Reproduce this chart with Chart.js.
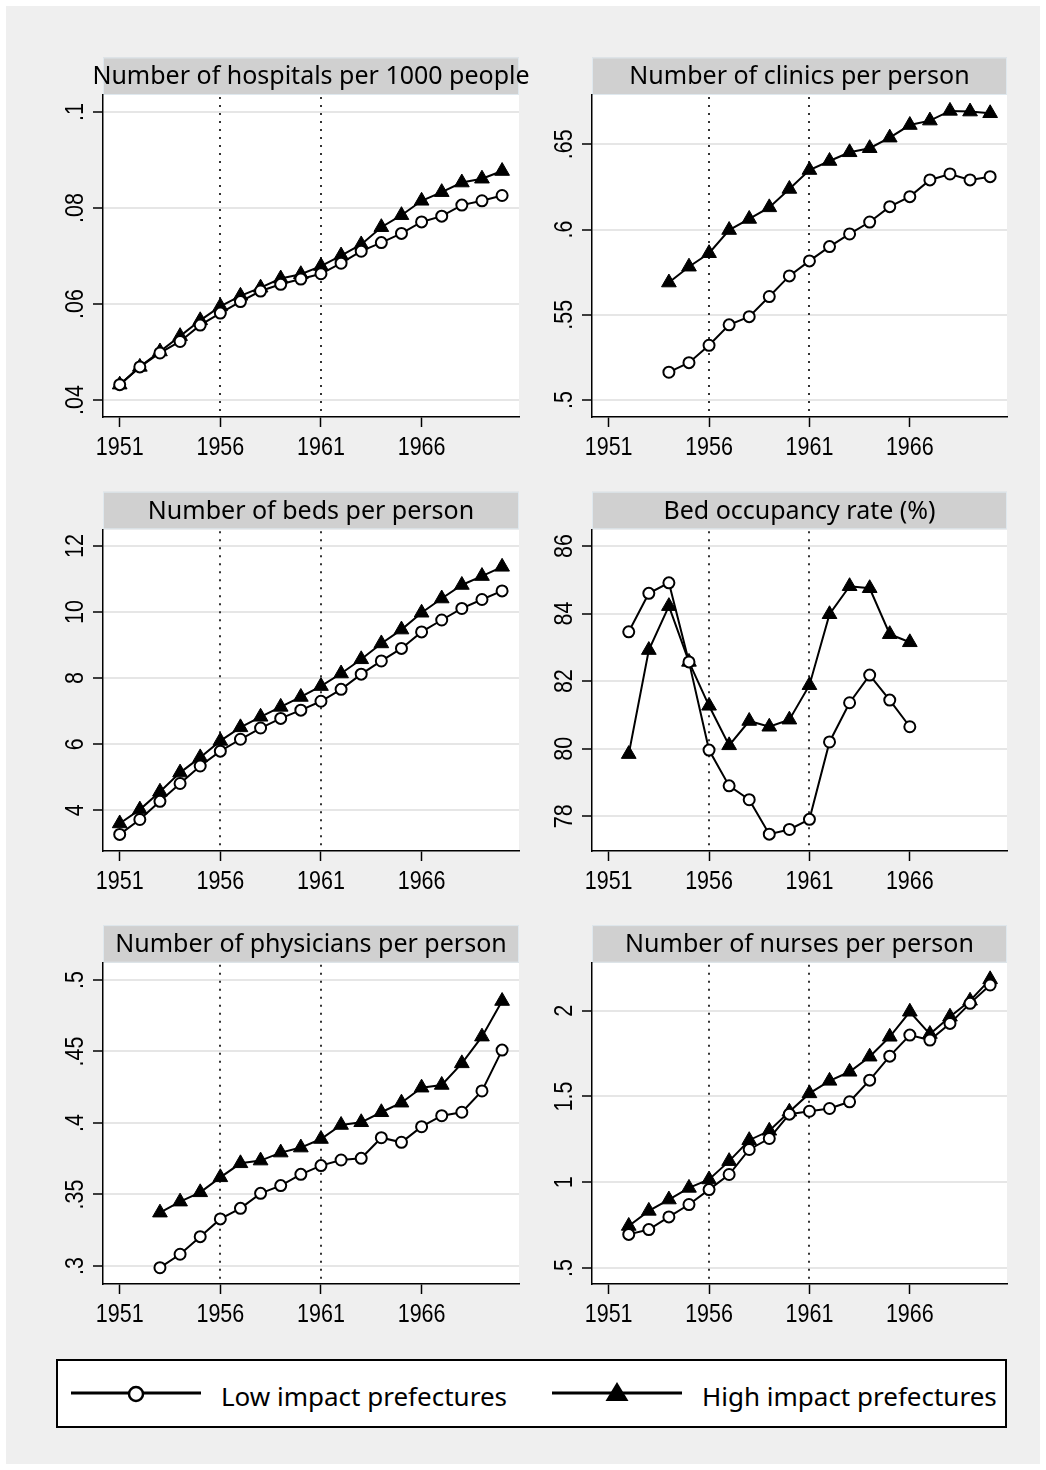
<!DOCTYPE html>
<html>
<head>
<meta charset="utf-8">
<script src="https://cdn.jsdelivr.net/npm/chart.js@4.4.1/dist/chart.umd.min.js"></script>
<style>
  html, body { margin: 0; padding: 0; background: #fff; }
  body { width: 1046px; height: 1470px; position: relative; overflow: hidden; }
  #frame { position: absolute; left: 6px; top: 6px; width: 1034px; height: 1458px; background: #efefef; }
  canvas { position: absolute; }
  #legend { position: absolute; left: 56px; top: 1359px; width: 947px; height: 65px;
            border: 2px solid #000; background: #fff; font-family: "Noto Sans", sans-serif; font-size: 26px; }
  #legend svg, #legend span { position: absolute; }
  #legend span { line-height: 30px; white-space: nowrap; color: #000; }
</style>
</head>
<body>
<div id="frame"></div>
<div id="legend">
  <svg style="left:13px;top:17px" width="130" height="30">
    <line x1="0" y1="15" x2="130" y2="15" stroke="#000" stroke-width="3"/>
    <circle cx="65" cy="16" r="7" fill="#fff" stroke="#000" stroke-width="2.5"/>
  </svg>
  <span style="left:163px;top:20px">Low impact prefectures</span>
  <svg style="left:494px;top:17px" width="130" height="30">
    <line x1="0" y1="15" x2="130" y2="15" stroke="#000" stroke-width="3"/>
    <polygon points="53.5,23 76.5,23 65,4" fill="#000"/>
  </svg>
  <span style="left:644px;top:20px">High impact prefectures</span>
</div>
<script>
// years on the x axis (same for every panel)
const years = [1951, 1952, 1953, 1954, 1955, 1956, 1957, 1958, 1959, 1960,
               1961, 1962, 1963, 1964, 1965, 1966, 1967, 1968, 1969, 1970];
const xTicks = [1951, 1956, 1961, 1966];
const xTickLabels = ['1951', '1956', '1961', '1966'];
const markYears = [1956, 1961];

// Number of hospitals per 1000 people
const hospitalsLow  = [0.0432, 0.0469, 0.0498, 0.0522, 0.0556, 0.0581, 0.0605, 0.0627, 0.0641, 0.0652,
                       0.0663, 0.0685, 0.0710, 0.0728, 0.0747, 0.0771, 0.0783, 0.0806, 0.0815, 0.0826];
const hospitalsHigh = [0.0432, 0.0469, 0.0501, 0.0533, 0.0566, 0.0595, 0.0617, 0.0634, 0.0653, 0.0662,
                       0.0679, 0.0701, 0.0724, 0.0760, 0.0785, 0.0815, 0.0833, 0.0853, 0.0861, 0.0877];
const hospitalsTicks = [0.04, 0.06, 0.08, 0.1];
const hospitalsTickLabels = ['.04', '.06', '.08', '.1'];

// Number of clinics per person
const clinicsLow  = [null, null, null, 0.5163, 0.5219, 0.5321, 0.5441, 0.5489, 0.5607, 0.5728,
                     0.5816, 0.5900, 0.5974, 0.6044, 0.6134, 0.6193, 0.6291, 0.6326, 0.6291, 0.6310];
const clinicsHigh = [null, null, null, 0.5689, 0.5782, 0.5861, 0.5997, 0.6062, 0.6130, 0.6238,
                     0.6349, 0.6402, 0.6453, 0.6477, 0.6539, 0.6613, 0.6639, 0.6696, 0.6692, 0.6682];
const clinicsTicks = [0.5, 0.55, 0.6, 0.65];
const clinicsTickLabels = ['.5', '.55', '.6', '.65'];

// Number of beds per person
const bedsLow  = [3.27, 3.72, 4.27, 4.81, 5.34, 5.79, 6.15, 6.49, 6.78, 7.03,
                  7.30, 7.66, 8.12, 8.52, 8.90, 9.40, 9.76, 10.11, 10.38, 10.64];
const bedsHigh = [3.60, 4.02, 4.56, 5.14, 5.60, 6.10, 6.51, 6.83, 7.13, 7.43,
                  7.76, 8.14, 8.57, 9.05, 9.47, 9.98, 10.41, 10.82, 11.09, 11.37];
const bedsTicks = [4, 6, 8, 10, 12];
const bedsTickLabels = ['4', '6', '8', '10', '12'];

// Bed occupancy rate (%)
const occupancyLow  = [null, 83.46, 84.60, 84.91, 82.57, 79.96, 78.90, 78.49, 77.47, 77.61,
                       77.91, 80.20, 81.36, 82.18, 81.44, 80.65, null, null, null, null];
const occupancyHigh = [null, 79.84, 82.92, 84.22, 82.57, 81.27, 80.10, 80.82, 80.65, 80.86,
                       81.88, 83.98, 84.81, 84.75, 83.39, 83.15, null, null, null, null];
const occupancyTicks = [78, 80, 82, 84, 86];
const occupancyTickLabels = ['78', '80', '82', '84', '86'];

// Number of physicians per person
const physiciansLow  = [null, null, 0.2988, 0.3082, 0.3205, 0.3329, 0.3403, 0.3508, 0.3562, 0.3641,
                        0.3702, 0.3741, 0.3753, 0.3897, 0.3865, 0.3974, 0.4051, 0.4075, 0.4224, 0.4510];
const physiciansHigh = [null, null, 0.3373, 0.3450, 0.3515, 0.3620, 0.3718, 0.3737, 0.3793, 0.3828,
                        0.3888, 0.3986, 0.4005, 0.4075, 0.4142, 0.4247, 0.4266, 0.4417, 0.4604, 0.4853];
const physiciansTicks = [0.3, 0.35, 0.4, 0.45, 0.5];
const physiciansTickLabels = ['.3', '.35', '.4', '.45', '.5'];

// Number of nurses per person
const nursesLow  = [null, 0.696, 0.724, 0.798, 0.870, 0.957, 1.045, 1.191, 1.255, 1.397,
                    1.414, 1.430, 1.469, 1.595, 1.735, 1.858, 1.829, 1.926, 2.043, 2.150];
const nursesHigh = [null, 0.745, 0.833, 0.899, 0.967, 1.016, 1.123, 1.245, 1.300, 1.411,
                    1.518, 1.591, 1.644, 1.732, 1.848, 1.994, 1.864, 1.965, 2.058, 2.183];
const nursesTicks = [0.5, 1, 1.5, 2];
const nursesTickLabels = ['.5', '1', '1.5', '2'];

// page geometry of the plot regions
const cols = [
  { canvasLeft: 8,   canvasWidth: 532, plotLeft: 103, plotRight: 519 },
  { canvasLeft: 545, canvasWidth: 495, plotLeft: 592, plotRight: 1007 }
];
const rows = [
  { canvasTop: 45,  plotTop: 95,    plotBottom: 417 },
  { canvasTop: 479, plotTop: 529.3, plotBottom: 850.7 },
  { canvasTop: 913, plotTop: 962.7, plotBottom: 1284 }
];
const TITLE_H = 37.6;
const BOTTOM_SPACE = 45;

const panels = [
  { col: 0, row: 0, title: 'Number of hospitals per 1000 people', low: hospitalsLow, high: hospitalsHigh,
    min: 0.03646, max: 0.10354, ticks: hospitalsTicks, labels: hospitalsTickLabels },
  { col: 1, row: 0, title: 'Number of clinics per person', low: clinicsLow, high: clinicsHigh,
    min: 0.49003, max: 0.67892, ticks: clinicsTicks, labels: clinicsTickLabels },
  { col: 0, row: 1, title: 'Number of beds per person', low: bedsLow, high: bedsHigh,
    min: 2.767, max: 12.506, ticks: bedsTicks, labels: bedsTickLabels },
  { col: 1, row: 1, title: 'Bed occupancy rate (%)', low: occupancyLow, high: occupancyHigh,
    min: 76.972, max: 86.495, ticks: occupancyTicks, labels: occupancyTickLabels },
  { col: 0, row: 2, title: 'Number of physicians per person', low: physiciansLow, high: physiciansHigh,
    min: 0.2874, max: 0.5121, ticks: physiciansTicks, labels: physiciansTickLabels },
  { col: 1, row: 2, title: 'Number of nurses per person', low: nursesLow, high: nursesHigh,
    min: 0.4067, max: 2.280, ticks: nursesTicks, labels: nursesTickLabels }
];

// no narrow font installed, so tick labels are squeezed a little
const TICK_FONT = '25px "Liberation Sans", Arial, sans-serif';
const SQUEEZE = 0.86;

// plot background, title bar, dotted reference lines, tick labels
const panelDeco = {
  id: 'panelDeco',
  beforeDraw(chart, args, opts) {
    const { ctx, chartArea: a } = chart;
    ctx.save();
    ctx.fillStyle = '#ffffff';
    ctx.fillRect(a.left, a.top, a.right - a.left, a.bottom - a.top);
    ctx.fillStyle = '#d0d0d0';
    ctx.fillRect(a.left, a.top - TITLE_H, a.right - a.left, TITLE_H);
    ctx.strokeStyle = '#dfe8ee';
    ctx.lineWidth = 1;
    ctx.strokeRect(a.left + 0.5, a.top - TITLE_H + 0.5, a.right - a.left - 1, TITLE_H - 1);
    ctx.fillStyle = '#000';
    ctx.font = '25px "Noto Sans", sans-serif';
    ctx.textAlign = 'center';
    ctx.textBaseline = 'middle';
    ctx.fillText(opts.title, (a.left + a.right) / 2, a.top - TITLE_H / 2 + 1);
    ctx.restore();
  },
  beforeDatasetsDraw(chart) {
    const { ctx, chartArea: a, scales } = chart;
    ctx.save();
    ctx.strokeStyle = '#333';
    ctx.lineWidth = 2;
    ctx.setLineDash([2, 6]);
    markYears.forEach(yr => {
      const x = Math.round(scales.x.getPixelForValue(yr));
      ctx.beginPath();
      ctx.moveTo(x, a.top + 2);
      ctx.lineTo(x, a.bottom);
      ctx.stroke();
    });
    ctx.restore();
  },
  afterDraw(chart, args, opts) {
    const { ctx, chartArea: a, scales } = chart;
    ctx.save();
    ctx.fillStyle = '#000';
    ctx.font = TICK_FONT;
    ctx.textAlign = 'center';
    ctx.textBaseline = 'alphabetic';
    xTicks.forEach((v, i) => {
      ctx.save();
      ctx.translate(scales.x.getPixelForValue(v), a.bottom + 38);
      ctx.scale(SQUEEZE, 1);
      ctx.fillText(xTickLabels[i], 0, 0);
      ctx.restore();
    });
    opts.ticks.forEach((v, i) => {
      ctx.save();
      ctx.translate(a.left - 20, scales.y.getPixelForValue(v));
      ctx.rotate(-Math.PI / 2);
      ctx.scale(SQUEEZE, 1);
      ctx.fillText(opts.labels[i], 0, 0);
      ctx.restore();
    });
    ctx.restore();
  }
};

panels.forEach(p => {
  const c = cols[p.col], r = rows[p.row];
  const canvasHeight = r.plotBottom + BOTTOM_SPACE - r.canvasTop;
  const canvas = document.createElement('canvas');
  canvas.width = c.canvasWidth;
  canvas.height = Math.round(canvasHeight);
  canvas.style.left = c.canvasLeft + 'px';
  canvas.style.top = r.canvasTop + 'px';
  document.body.appendChild(canvas);

  new Chart(canvas, {
    type: 'line',
    data: {
      datasets: [
        {
          label: 'Low impact prefectures',
          data: years.map((yr, i) => ({ x: yr, y: p.low[i] })),
          borderColor: '#000', borderWidth: 2,
          pointStyle: 'circle', pointRadius: 5.5, pointBorderWidth: 2,
          pointBackgroundColor: '#fff', pointBorderColor: '#000',
          spanGaps: false, tension: 0
        },
        {
          label: 'High impact prefectures',
          data: years.map((yr, i) => ({ x: yr, y: p.high[i] })),
          borderColor: '#000', borderWidth: 2,
          pointStyle: 'triangle', pointRadius: 8.5, pointBorderWidth: 1,
          pointBackgroundColor: '#000', pointBorderColor: '#000',
          spanGaps: false, tension: 0
        }
      ]
    },
    options: {
      responsive: false,
      animation: false,
      devicePixelRatio: 1,
      layout: {
        padding: {
          left: 0,
          top: r.plotTop - r.canvasTop,
          right: c.canvasLeft + c.canvasWidth - c.plotRight,
          bottom: 0
        }
      },
      plugins: {
        legend: { display: false },
        tooltip: { enabled: false },
        panelDeco: { title: p.title, ticks: p.ticks, labels: p.labels }
      },
      scales: {
        x: {
          type: 'linear',
          min: 1950.17,
          max: 1970.84,
          afterBuildTicks: s => { s.ticks = xTicks.map(v => ({ value: v })); },
          afterFit: s => { s.height = BOTTOM_SPACE; },
          grid: { drawOnChartArea: false, drawTicks: true, tickLength: 10, tickColor: '#000', tickWidth: 1.5 },
          border: { display: true, color: '#000', width: 1.5 },
          ticks: { display: false }
        },
        y: {
          type: 'linear',
          min: p.min,
          max: p.max,
          afterBuildTicks: s => { s.ticks = p.ticks.map(v => ({ value: v })); },
          afterFit: s => { s.width = c.plotLeft - c.canvasLeft; },
          grid: { color: '#e6e6e6', lineWidth: 2, drawTicks: true, tickLength: 10, tickColor: '#000', tickWidth: 1.5 },
          border: { display: true, color: '#000', width: 1.5 },
          ticks: { display: false }
        }
      }
    },
    plugins: [panelDeco]
  });
});
</script>
</body>
</html>
